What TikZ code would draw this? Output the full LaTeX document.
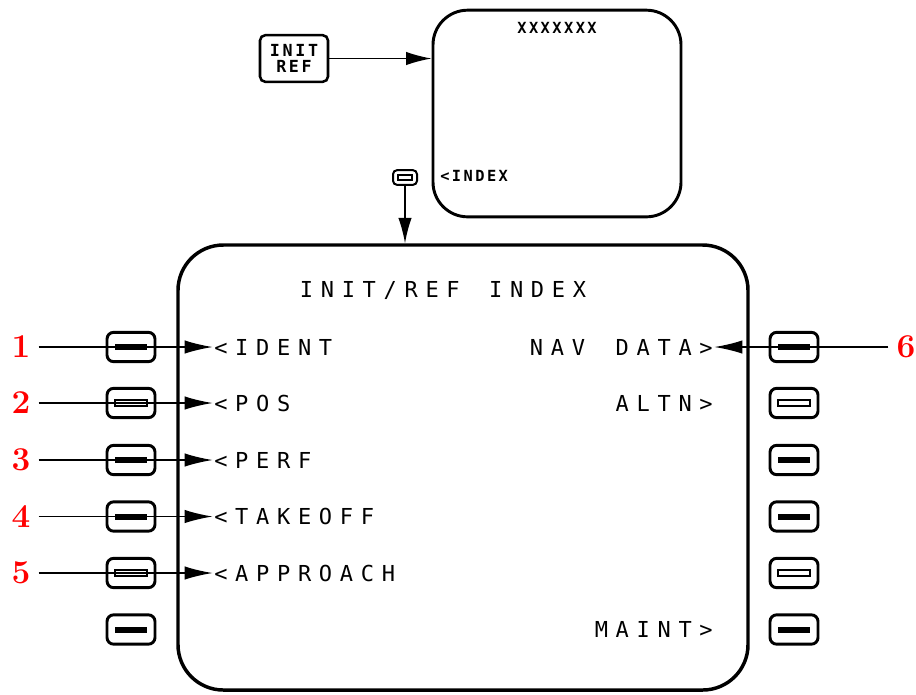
\documentclass[tikz,border=0pt]{standalone}
\usepackage{fontspec}
\usepackage{tikz}
\usetikzlibrary{arrows.meta, positioning, calc}
\newfontfamily\cdufont[LetterSpace=35]{DejaVu Sans Mono}
\newfontfamily\cdusmall[LetterSpace=16]{DejaVu Sans Mono Bold}
\definecolor{calloutred}{RGB}{255, 0, 0}

\tikzset{
  screen/.style={draw, line width=2.6pt, rounded corners=34pt, inner sep=0pt},
  lsk/.style={draw, line width=2.2pt, rounded corners=5pt, minimum width=36pt, minimum height=22pt, inner sep=0pt},
  barfull/.style={path picture={\draw[line width=4.5pt, sharp corners] ([xshift=-#1]path picture bounding box.center) -- ([xshift=#1]path picture bounding box.center);}},
  barfull/.default=12pt,
  barhollow/.style={path picture={\draw[line width=1.4pt, sharp corners] ([xshift=-#1, yshift=-2pt]path picture bounding box.center) rectangle ([xshift=#1, yshift=2pt]path picture bounding box.center);}},
  barhollow/.default=12pt,
  cdutext/.style={font=\cdufont\fontsize{16.5}{18}\selectfont, inner sep=0pt},
  smalltext/.style={font=\cdusmall\fontsize{11.5}{12}\selectfont, inner sep=0pt},
  callout/.style={text=calloutred, font=\fontsize{25}{28}\selectfont\bfseries, inner sep=6pt},
  ptr/.style={line width=1.1pt, -{Latex[length=21pt, width=10pt]}, shorten >=1pt}
}

\begin{document}
\begin{tikzpicture}[x=0.75pt, y=-0.75pt]
  \useasboundingbox (0,0) rectangle (916,694);
  % Upper page
  \node[screen, line width=2.2pt, rounded corners=26pt, minimum width=186pt, minimum height=155pt] (page) at (557,113.5) {};
  \node[smalltext] (title) at (557,28) {XXXXXXX};
  \node[smalltext, anchor=west] (index) at (440,176) {<INDEX};
  % INIT REF key and select key
  \node[lsk, line width=1.9pt, rounded corners=4pt, minimum width=51pt, minimum height=35pt, align=center,
        font=\cdusmall\fontsize{12.5}{11.5}\selectfont] (initref) at (294,58.5) {INIT\\REF};
  \node[lsk, barhollow=5.5pt, line width=1.5pt, rounded corners=3pt, minimum width=18pt, minimum height=11pt] (selkey) at (405,177.5) {};
  \draw[line width=1.1pt, -{Latex[length=19pt, width=10pt]}] (initref.east) -- (initref.east -| page.west);
  % Main page
  \node[screen, minimum width=427.5pt, minimum height=333.75pt] (cdu) at (463,467.5) {};
  \draw[line width=1.1pt, -{Latex[length=19pt, width=10pt]}] (selkey.south) -- (selkey.south |- cdu.north);
  \node[cdutext, anchor=base] (heading) at (443,297) {INIT/REF\hspace{22pt}INDEX};
  % Left keys
  \node[lsk, barfull] (l1) at (131,347) {};
  \node[lsk, barhollow] (l2) at (131,403) {};
  \node[lsk, barfull] (l3) at (131,460) {};
  \node[lsk, barfull] (l4) at (131,516.5) {};
  \node[lsk, barhollow] (l5) at (131,573) {};
  \node[lsk, barfull] (l6) at (131,629.5) {};
  % Right keys
  \node[lsk, barfull] (r1) at (794,347) {};
  \node[lsk, barhollow] (r2) at (794,403) {};
  \node[lsk, barfull] (r3) at (794,460) {};
  \node[lsk, barfull] (r4) at (794,516.5) {};
  \node[lsk, barhollow] (r5) at (794,573) {};
  \node[lsk, barfull] (r6) at (794,629.5) {};
  % Line labels
  \node[cdutext, anchor=west] (ident) at (214,347) {<IDENT};
  \node[cdutext, anchor=west] (pos) at (214,403) {<POS};
  \node[cdutext, anchor=west] (perf) at (214,460) {<PERF};
  \node[cdutext, anchor=west] (takeoff) at (214,516.5) {<TAKEOFF};
  \node[cdutext, anchor=west] (approach) at (214,573) {<APPROACH};
  \node[cdutext, anchor=east] (navdata) at (713,347) {NAV\hspace{23pt}DATA>};
  \node[cdutext, anchor=east] (altn) at (713,403) {ALTN>};
  \node[cdutext, anchor=east] (maint) at (713,629.5) {MAINT>};
  % Callouts
  \node[callout] (n1) at (21,347) {1};
  \node[callout] (n2) at (21,403) {2};
  \node[callout] (n3) at (21,460) {3};
  \node[callout] (n4) at (21,516.5) {4};
  \node[callout] (n5) at (21,573) {5};
  \node[callout] (n6) at (906,347) {6};
  \draw[ptr] (n1) -- (ident);
  \draw[ptr] (n2) -- (pos);
  \draw[ptr] (n3) -- (perf);
  \draw[ptr] (n4) -- (takeoff);
  \draw[ptr] (n5) -- (approach);
  \draw[ptr] (n6) -- (navdata);
\end{tikzpicture}
\end{document}
